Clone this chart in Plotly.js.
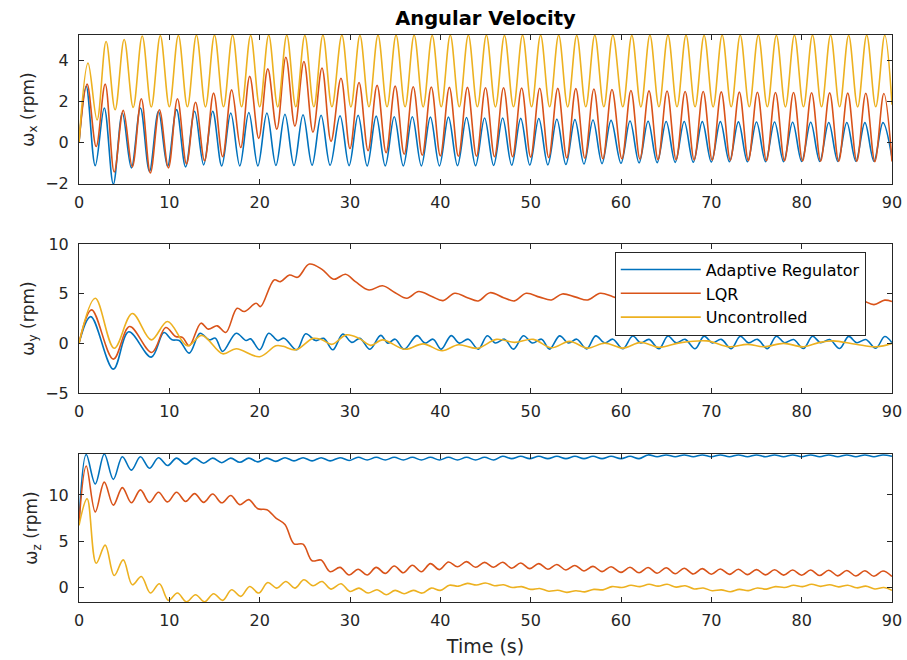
<!DOCTYPE html>
<html><head><meta charset="utf-8">
<script src="https://cdn.plot.ly/plotly-3.0.1.min.js"></script>
<style>body{margin:0;background:#fff}#chart{width:907px;height:660px}</style>
</head><body><div id="chart"></div><script>
// ---------- time grids of the oscillation extrema (s) ----------
const tYPeak = [1.0,3.0,5.0,7.0,9.0,11.0,13.0,15.0,17.0,19.0,21.0,23.0,25.0,27.0,29.1,31.1,33.1,35.1,37.1,39.1,41.1,43.1,45.1,47.1,49.1,51.1,53.1,55.1,57.1,59.1,61.2,63.2,65.2,67.2,69.2,71.2,73.2,75.2,77.2,79.2,81.2,83.2,85.2,87.2,89.2];
const tYTrough = [2.0,4.0,6.0,8.0,10.0,12.0,14.0,16.0,18.0,20.0,22.0,24.0,26.0,28.0,30.1,32.1,34.1,36.1,38.1,40.1,42.1,44.1,46.1,48.1,50.1,52.1,54.1,56.1,58.1,60.2,62.2,64.2,66.2,68.2,70.2,72.2,74.2,76.2,78.2,80.2,82.2,84.2,86.2,88.2];
const tRPeak = [0.9,2.9,4.9,6.9,8.9,10.9,12.9,14.9,16.9,18.9,20.9,22.9,24.9,26.9,29.0,31.0,33.0,35.0,37.0,39.0,41.0,43.0,45.0,47.0,49.0,51.0,53.0,55.0,57.0,59.0,61.1,63.1,65.1,67.1,69.1,71.1,73.1,75.1,77.1,79.1,81.1,83.1,85.1,87.1,89.1];
const tRTrough = [1.9,3.9,5.9,7.9,9.9,11.9,13.9,15.9,17.9,19.9,21.9,23.9,25.9,27.9,30.0,32.0,34.0,36.0,38.0,40.0,42.0,44.0,46.0,48.0,50.0,52.0,54.0,56.0,58.0,60.1,62.1,64.1,66.1,68.1,70.1,72.1,74.1,76.1,78.1,80.1,82.1,84.1,86.1,88.1];
const tBPeak = [0.8,2.8,4.8,6.8,8.8,10.8,12.8,14.8,16.8,18.8,20.8,22.8,24.8,26.8,28.9,30.9,32.9,34.9,36.9,38.9,40.9,42.9,44.9,46.9,48.9,50.9,52.9,54.9,56.9,58.9,61.0,63.0,65.0,67.0,69.0,71.0,73.0,75.0,77.0,79.0,81.0,83.0,85.0,87.0,89.0];
const tBTrough = [1.8,3.8,5.8,7.8,9.8,11.8,13.8,15.8,17.8,19.8,21.8,23.8,25.8,27.8,29.9,31.9,33.9,35.9,37.9,39.9,41.9,43.9,45.9,47.9,49.9,51.9,53.9,55.9,57.9,60.0,62.0,64.0,66.0,68.0,70.0,72.0,74.0,76.0,78.0,80.0,82.0,84.0,86.0,88.0];

// ---------- omega_x (rpm): peak / trough values ----------
const wxUncPeak = [3.89,4.95,5.05,5.22,5.24,5.25,5.26,5.26,5.26,5.25,5.26,5.26,5.25,5.26,5.26,5.25,5.26,5.26,5.26,5.25,5.26,5.26,5.26,5.25,5.26,5.26,5.26,5.25,5.26,5.26,5.25,5.26,5.26,5.26,5.25,5.26,5.26,5.26,5.25,5.26,5.26,5.26,5.25,5.26,5.26];
const wxUncTrough = [1.10,1.60,1.72,1.74,1.75,1.75,1.74,1.75,1.75,1.75,1.74,1.75,1.75,1.75,1.74,1.75,1.75,1.75,1.74,1.75,1.75,1.75,1.74,1.75,1.75,1.75,1.74,1.75,1.75,1.75,1.74,1.75,1.75,1.75,1.74,1.75,1.75,1.75,1.74,1.75,1.75,1.75,1.74,1.75];
const wxLqrPeak = [2.86,2.86,1.57,2.14,1.60,2.14,1.97,2.42,2.58,3.24,3.61,4.18,3.97,3.65,3.15,2.94,2.80,2.76,2.73,2.72,2.70,2.70,2.68,2.68,2.67,2.66,2.65,2.64,2.62,2.60,2.55,2.53,2.52,2.50,2.50,2.48,2.47,2.46,2.45,2.45,2.44,2.43,2.42,2.41,2.40];
const wxLqrTrough = [-0.20,-1.45,-1.20,-1.50,-1.25,-1.05,-0.90,-0.70,-0.25,0.20,0.65,0.80,0.50,0.05,-0.30,-0.40,-0.50,-0.58,-0.63,-0.66,-0.68,-0.68,-0.70,-0.70,-0.72,-0.74,-0.76,-0.78,-0.80,-0.80,-0.82,-0.84,-0.85,-0.86,-0.87,-0.88,-0.89,-0.90,-0.90,-0.91,-0.92,-0.93,-0.93,-0.94];
const wxAdaPeak = [2.75,1.69,1.44,1.69,1.53,1.61,1.53,1.53,1.44,1.47,1.44,1.38,1.36,1.33,1.31,1.33,1.29,1.26,1.26,1.24,1.24,1.22,1.20,1.20,1.18,1.17,1.14,1.12,1.10,1.08,1.05,1.04,1.03,1.03,1.02,1.02,1.01,1.00,1.00,0.99,0.99,0.98,0.98,0.97,0.97];
const wxAdaTrough = [-1.14,-2.04,-1.25,-1.42,-1.17,-1.20,-1.10,-1.15,-1.15,-1.15,-1.13,-1.13,-1.12,-1.12,-1.14,-1.15,-1.15,-1.15,-1.15,-1.15,-1.14,-1.14,-1.13,-1.12,-1.11,-1.10,-1.08,-1.06,-1.04,-1.02,-1.00,-0.99,-0.98,-0.97,-0.96,-0.95,-0.95,-0.94,-0.94,-0.93,-0.93,-0.93,-0.92,-0.92];

// ---------- omega_z (rpm): peak / trough values ----------
const wzAdaPeak = [14.40,14.45,14.15,14.15,14.05,14.00,14.00,14.00,14.00,14.00,14.00,14.05,14.05,14.05,14.05,14.10,14.10,14.10,14.10,14.10,14.10,14.10,14.10,14.20,14.20,14.20,14.20,14.20,14.20,14.20,14.20,14.35,14.35,14.35,14.35,14.35,14.35,14.35,14.35,14.35,14.35,14.35,14.35,14.35,14.35];
const wzAdaTrough = [11.20,11.70,12.70,12.90,13.20,13.35,13.45,13.50,13.55,13.60,13.65,13.70,13.70,13.70,13.75,13.80,13.80,13.80,13.80,13.80,13.80,13.80,13.80,13.95,13.95,13.95,13.95,13.95,13.95,13.95,13.95,14.15,14.15,14.15,14.15,14.15,14.15,14.15,14.15,14.15,14.15,14.15,14.15,14.15];
const wzLqrPeak = [13.15,11.40,10.80,10.55,10.30,10.30,10.15,10.10,9.95,9.50,8.40,6.80,4.66,2.93,2.14,1.93,2.14,2.29,2.37,2.55,2.73,2.76,2.68,2.70,2.62,2.55,2.45,2.35,2.25,2.20,2.15,2.12,2.10,2.05,2.00,1.97,1.93,1.90,1.88,1.86,1.85,1.83,1.80,1.78,1.75];
const wzLqrTrough = [8.16,8.90,9.15,9.20,9.25,9.30,9.20,9.15,8.95,8.50,7.50,4.70,2.86,1.67,1.31,1.31,1.49,1.56,1.67,1.90,2.20,2.15,2.15,2.05,2.00,1.94,1.85,1.75,1.68,1.60,1.55,1.50,1.45,1.42,1.40,1.38,1.35,1.32,1.30,1.28,1.25,1.22,1.20,1.17];
const wzUncPeak = [9.60,4.56,2.95,1.15,0.36,-0.65,-0.83,-0.72,-0.29,0.07,0.50,0.61,0.79,0.61,0.36,-0.11,-0.29,-0.36,-0.36,-0.11,0.20,0.40,0.45,0.25,0.05,-0.15,-0.35,-0.40,-0.25,0.05,0.20,0.30,0.30,0.15,-0.10,-0.30,-0.25,-0.10,0.05,0.20,0.30,0.25,0.20,0.10,-0.05];
const wzUncTrough = [2.59,1.25,0.25,-0.65,-1.44,-1.60,-1.60,-1.44,-1.01,-0.65,-0.11,-0.11,0.14,-0.22,-0.47,-0.65,-0.83,-0.72,-0.65,-0.36,0.10,0.22,0.15,-0.05,-0.25,-0.45,-0.58,-0.52,-0.30,-0.05,0.05,0.10,0.00,-0.20,-0.40,-0.50,-0.38,-0.22,-0.05,0.05,0.08,0.02,-0.08,-0.20];

// ---------- omega_y (rpm): time / value samples ----------
const tWyAda = [0,1.3,3.8,5.5,8.0,9.4,10.3,11.1,12.2,13.4,14.4,15.1,15.9,17.4,18.5,19.0,20.0,21.0,22.0,22.7,24.1,25.1,26.2,27.1,28.1,29.2,30.2,31.1,32.2,33.4,34.2,35.0,36.0,37.4,38.3,39.2,40.1,41.2,42.1,43.1,44.2,45.2,46.1,47.1,48.1,49.2,50.2,51.2,52.1,53.2,54.2,55.1,56.2,57.2,58.2,59.1,60.2,61.3,62.2,63.1,64.2,65.2,66.1,67.1,68.2,69.2,70.1,71.1,72.2,73.2,74.1,75.1,76.2,77.2,78.1,79.1,80.2,81.2,82.1,83.1,84.2,85.2,86.1,87.1,88.2,89.2,90.0];
const wyAda = [0,2.69,-2.60,1.16,-1.39,1.09,0.35,0.29,-0.99,1.02,0.35,0.52,-0.82,1.02,0.28,0.45,-0.65,1.02,0.28,0.52,-0.65,0.96,0.28,0.50,-0.65,0.93,0.10,0.50,-0.60,0.80,0.02,0.42,-0.60,0.78,0.02,0.42,-0.58,0.78,0.02,0.42,-0.58,0.76,0.03,0.42,-0.58,0.76,0.03,0.42,-0.58,0.75,0.03,0.42,-0.56,0.75,0.04,0.42,-0.55,0.74,0.04,0.40,-0.55,0.74,0.05,0.40,-0.54,0.73,0.05,0.40,-0.54,0.72,0.05,0.40,-0.53,0.72,0.06,0.38,-0.52,0.71,0.06,0.38,-0.52,0.70,0.06,0.38,-0.50,0.68,0.05];
const tWyLqr = [0,1.4,3.8,5.6,8.05,9.6,10.7,11.45,12.2,13.5,14.3,15.3,16.25,17.5,18.3,19.6,20.1,21.6,22.3,23.3,24.2,25.5,26.9,28.2,29.5,30.6,32.1,33.6,35.0,36.3,37.6,39.0,40.3,41.6,43.0,44.2,45.5,47.0,48.2,49.5,51.0,52.3,53.5,55.0,56.3,57.7,59.1,60.3,61.6,63.0,64.3,65.6,67.0,68.3,69.6,71.0,72.3,73.6,75.0,76.3,77.6,79.0,80.3,81.6,83.0,84.3,85.5,86.8,88.0,89.2,90.0];
const wyLqr = [0,3.37,-1.59,1.69,-0.92,1.59,0.69,0.60,-0.25,2.03,1.43,1.76,1.09,3.53,3.20,4.03,3.70,6.38,6.21,6.88,6.65,7.98,7.45,6.45,6.95,6.21,5.37,5.80,5.10,4.54,5.21,4.75,4.30,5.04,4.60,4.27,5.10,4.60,4.27,5.04,4.65,4.37,4.97,4.65,4.37,5.04,4.70,4.35,4.95,4.60,4.30,4.90,4.55,4.25,4.85,4.50,4.20,4.80,4.45,4.15,4.75,4.40,4.10,4.70,4.35,4.05,4.65,4.30,3.90,4.35,4.20];
const tWyUnc = [0,1.8,3.9,5.9,8.0,9.8,12.0,13.6,15.9,17.4,20.0,21.8,22.6,24.0,25.9,26.9,28.0,29.6,31.0,32.3,33.6,36.1,38.1,40.2,42.0,44.1,46.2,48.2,50.3,52.3,54.3,56.3,58.2,60.2,62.2,64.2,66.5,69.5,72.0,74.0,75.8,78.0,80.2,82.0,83.5,86.0,88.3,90.0];
const wyUnc = [0,4.54,-0.49,3.00,0.35,2.20,-0.25,0.80,-1.05,-0.55,-1.35,-0.25,-0.30,-0.65,0.50,0.35,-0.10,0.85,0.50,-0.20,0.35,-0.60,-0.05,-0.75,-0.15,-0.50,0.40,0.10,0.40,-0.45,0.20,-0.48,0.02,-0.48,0.10,-0.40,0.05,0.25,-0.35,-0.10,-0.35,0.00,-0.35,0.10,0.25,-0.10,-0.35,0.00];

const seriesNames = ['Adaptive Regulator','LQR','Uncontrolled'];
const seriesColors = ['#0072BD','#D95319','#EDB120'];
const xTicks = [0,10,20,30,40,50,60,70,80,90];

// interleave start, alternating peaks/troughs, end
function weave(start, peaks, troughs, end){
  const out=[start];
  for(let i=0;i<peaks.length;i++){ out.push(peaks[i]); if(i<troughs.length) out.push(troughs[i]); }
  out.push(end); return out;
}

function tr(x,y,s,ax,legend){
  return {x:x,y:y,type:'scatter',mode:'lines',name:seriesNames[s],
    line:{color:seriesColors[s],width:1.6,shape:'spline',smoothing:1},
    xaxis:'x'+ax, yaxis:'y'+ax, showlegend:legend, hoverinfo:'skip'};
}
const tB = weave(0,tBPeak,tBTrough,90), tR = weave(0,tRPeak,tRTrough,90), tY = weave(0,tYPeak,tYTrough,90);
const data = [
  tr(tB, weave(0,wxAdaPeak,wxAdaTrough,-0.75), 0,'',false),
  tr(tR, weave(0,wxLqrPeak,wxLqrTrough,-0.93), 1,'',false),
  tr(tY, weave(0,wxUncPeak,wxUncTrough,1.85), 2,'',false),
  tr(tWyAda, wyAda, 0,'2',true),
  tr(tWyLqr, wyLqr, 1,'2',true),
  tr(tWyUnc, wyUnc, 2,'2',true),
  tr(tB, weave(7.0,wzAdaPeak,wzAdaTrough,14.2), 0,'3',false),
  tr(tB, weave(7.0,wzLqrPeak,wzLqrTrough,1.15), 1,'3',false),
  tr(tR, weave(6.7,wzUncPeak,wzUncTrough,-0.35), 2,'3',false)
];

const F = 'DejaVu Sans, Arial, sans-serif';
const axCol = '#262626';
function xa(anchor){
  return {anchor:anchor, domain:[0,1], range:[0,90], tickvals:xTicks, ticks:'inside', ticklen:5,
    tickcolor:axCol, showline:true, linecolor:axCol, linewidth:1, mirror:'ticks', showgrid:false,
    zeroline:false, tickfont:{family:F,size:16,color:axCol}, ticklabelstandoff:4};
}
function ya(anchor,dom,rng,tv,ttl){
  return {anchor:anchor, domain:dom, range:rng, tickvals:tv, ticks:'inside', ticklen:5,
    tickcolor:axCol, showline:true, linecolor:axCol, linewidth:1, mirror:'ticks', showgrid:false,
    zeroline:false, tickfont:{family:F,size:16,color:axCol}, ticklabelstandoff:6,
    title:{text:ttl, font:{family:F,size:17,color:axCol}, standoff:6}};
}
const layout = {
  width:907, height:660, paper_bgcolor:'#fff', plot_bgcolor:'#fff',
  margin:{l:79,r:15,t:35,b:58},
  title:{text:'Angular Velocity', font:{family:F,size:19.5,color:'#000',weight:'bold'},
    x:0.5, xref:'paper', y:0.973, yref:'container', yanchor:'middle'},
  xaxis: xa('y'),
  xaxis2: xa('y2'),
  xaxis3: Object.assign(xa('y3'), {title:{text:'Time (s)', font:{family:F,size:19,color:axCol}, standoff:10}}),
  yaxis: ya('x',[0.7372,1],[-2.04,5.27],[-2,0,2,4],'ω<sub>x</sub> (rpm)'),
  yaxis2: ya('x2',[0.3686,0.6314],[-5,10],[-5,0,5,10],'ω<sub>y</sub> (rpm)'),
  yaxis3: ya('x3',[0,0.261],[-1.62,14.45],[0,5,10],'ω<sub>z</sub> (rpm)'),
  legend:{x:0.659, y:0.618, xanchor:'left', yanchor:'top', xref:'paper', yref:'paper',
    bgcolor:'#fff', bordercolor:axCol, borderwidth:1, font:{family:F,size:16,color:'#000'},
    tracegroupgap:0, itemwidth:80},
  showlegend:true
};
Plotly.newPlot('chart', data, layout, {staticPlot:true, displayModeBar:false});
</script></body></html>
